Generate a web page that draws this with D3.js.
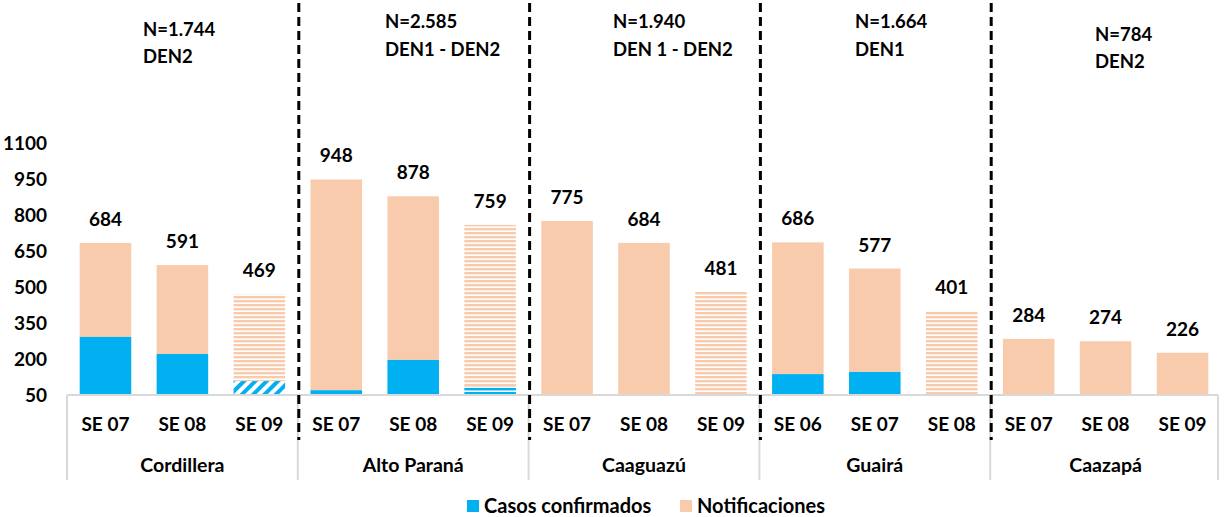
<!DOCTYPE html>
<html>
<head>
<meta charset="utf-8">
<script src="https://cdn.jsdelivr.net/npm/d3@7"></script>
<style>
  body { margin: 0; background: #fff; }
  text { font-family: Lato, "Open Sans", sans-serif; font-weight: bold; fill: #000; }
</style>
</head>
<body>
<div id="chart-area"></div>
<script>
// data
var regions = ["Cordillera", "Alto Paraná", "Caaguazú", "Guairá", "Caazapá"];
var headerN = ["N=1.744", "N=2.585", "N=1.940", "N=1.664", "N=784"];
var headerDen = ["DEN2", "DEN1 - DEN2", "DEN 1 - DEN2", "DEN1", "DEN2"];
var weeks = [
  ["SE 07", "SE 08", "SE 09"],
  ["SE 07", "SE 08", "SE 09"],
  ["SE 07", "SE 08", "SE 09"],
  ["SE 06", "SE 07", "SE 08"],
  ["SE 07", "SE 08", "SE 09"]
];
var notificaciones = [
  [684, 591, 469],
  [948, 878, 759],
  [775, 684, 481],
  [686, 577, 401],
  [284, 274, 226]
];
var confirmados = [
  [292, 221, 108],
  [70, 196, 85],
  [0, 0, 0],
  [137, 146, 0],
  [0, 0, 0]
];
// last week still incomplete (striped bars)
var provisional = [
  [false, false, true],
  [false, false, true],
  [false, false, true],
  [false, false, true],
  [false, false, false]
];
var yTicks = [50, 200, 350, 500, 650, 800, 950, 1100];

var total_width = 1229, total_height = 517;
var blue = "#00B0F0", peach = "#F8CBAD";

var svg = d3.select("#chart-area").append("svg")
  .attr("width", total_width)
  .attr("height", total_height);

var defs = svg.append("defs");
var pStripe = defs.append("pattern").attr("id", "stripePeach")
  .attr("patternUnits", "userSpaceOnUse").attr("width", 8).attr("height", 4);
pStripe.append("rect").attr("width", 8).attr("height", 2.4).attr("fill", peach);
var bStripe = defs.append("pattern").attr("id", "stripeBlue")
  .attr("patternUnits", "userSpaceOnUse").attr("width", 8).attr("height", 4);
bStripe.append("rect").attr("width", 8).attr("height", 2.4).attr("fill", blue);
var bDiag = defs.append("pattern").attr("id", "diagBlue")
  .attr("patternUnits", "userSpaceOnUse").attr("width", 8).attr("height", 8)
  .attr("patternTransform", "rotate(45)");
bDiag.append("rect").attr("width", 4).attr("height", 8).attr("fill", blue);

// flatten
var rows = [];
regions.forEach(function(r, i) {
  weeks[i].forEach(function(w, j) {
    rows.push({
      key: i + "-" + j, region: i, idx: j, week: w,
      total: notificaciones[i][j], conf: confirmados[i][j], prov: provisional[i][j]
    });
  });
});

var x = d3.scaleBand()
  .domain(rows.map(function(d) { return d.key; }))
  .range([67, 1221])
  .paddingInner(0.33).paddingOuter(0.165);

var y = d3.scaleLinear()
  .domain([50, 1100])
  .range([395, 143]);

var step = x.step();
function panelLeft(i) { return x.range()[0] + step * 3 * i; }

// y axis labels (no line)
var yAxis = d3.axisLeft(y).tickValues(yTicks).tickFormat(d3.format("d")).tickSize(0).tickPadding(0);
var yg = svg.append("g").attr("transform", "translate(47,0)").call(yAxis);
yg.select(".domain").remove();
yg.selectAll("text").style("font-size", "19px").style("font-family", "Lato, sans-serif")
  .style("font-weight", "bold").attr("fill", "#000");

// bars
var bars = svg.append("g");
rows.forEach(function(d) {
  var bx = x(d.key), bw = x.bandwidth();
  var c = Math.max(d.conf, 50);
  bars.append("rect")
    .attr("x", bx).attr("width", bw)
    .attr("y", y(d.total)).attr("height", y(c) - y(d.total))
    .attr("fill", d.prov ? "url(#stripePeach)" : peach);
  if (d.conf > 50) {
    var fill = blue;
    if (d.prov) fill = d.region === 0 ? "url(#diagBlue)" : "url(#stripeBlue)";
    bars.append("rect")
      .attr("x", bx).attr("width", bw)
      .attr("y", y(d.conf)).attr("height", y(50) - y(d.conf))
      .attr("fill", fill);
  }
  svg.append("text")
    .attr("x", bx + bw / 2).attr("y", y(d.total) - 17)
    .attr("text-anchor", "middle")
    .style("font-size", "19px")
    .text(d.total);
  svg.append("text")
    .attr("x", bx + bw / 2).attr("y", 431)
    .attr("text-anchor", "middle")
    .style("font-size", "19px")
    .text(d.week);
});

// category axis frame
var frame = svg.append("g").attr("stroke", "#d9d9d9").attr("stroke-width", 2);
frame.append("line").attr("x1", 67).attr("x2", 1218).attr("y1", 395).attr("y2", 395);
for (var i = 0; i <= regions.length; i++) {
  var fx = Math.min(panelLeft(i), 1218);
  frame.append("line").attr("x1", fx).attr("x2", fx)
    .attr("y1", 395).attr("y2", 480);
}

// region labels and headers
var headerY = [[30, 57], [22, 50], [22, 50], [22, 50], [35, 62]];
var headerX = [143, 385, 613, 855, 1095];
regions.forEach(function(r, i) {
  svg.append("text")
    .attr("x", panelLeft(i) + step * 1.5).attr("y", 472)
    .attr("text-anchor", "middle")
    .style("font-size", "19.5px")
    .text(r);
  svg.append("text").attr("x", headerX[i]).attr("y", headerY[i][0] + 6)
    .style("font-size", "18.5px").text(headerN[i]);
  svg.append("text").attr("x", headerX[i]).attr("y", headerY[i][1] + 6)
    .style("font-size", "18.5px").text(headerDen[i]);
});

// dashed separators
for (var k = 1; k < regions.length; k++) {
  svg.append("line")
    .attr("x1", panelLeft(k) + 1).attr("x2", panelLeft(k) + 1)
    .attr("y1", 3).attr("y2", 440)
    .attr("stroke", "#000").attr("stroke-width", 3)
    .attr("stroke-dasharray", "9,5");
}

// legend
var legend = svg.append("g").attr("transform", "translate(467,500)");
legend.append("rect").attr("width", 12).attr("height", 12).attr("fill", blue);
legend.append("text").attr("x", 17).attr("y", 13).style("font-size", "20px").text("Casos confirmados");
legend.append("rect").attr("x", 213).attr("width", 12).attr("height", 12).attr("fill", peach);
legend.append("text").attr("x", 230).attr("y", 13).style("font-size", "20px").text("Notificaciones");
</script>
</body>
</html>
